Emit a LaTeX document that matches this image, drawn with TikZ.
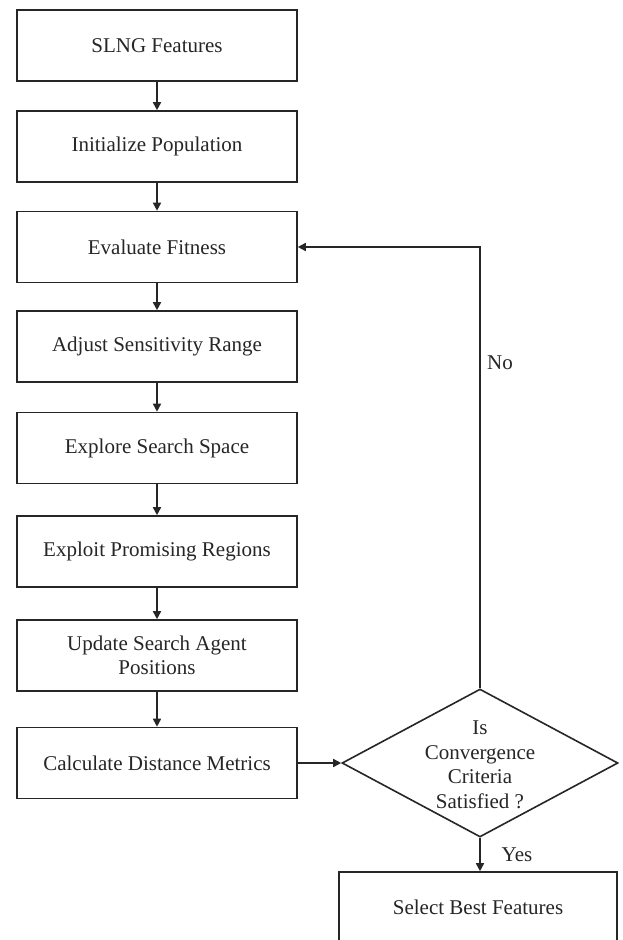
\documentclass[tikz,border=0pt]{standalone}
\usepackage{fontspec}
\setmainfont{Liberation Serif}
\usetikzlibrary{shapes.geometric,arrows.meta}
\begin{document}
\begin{tikzpicture}[x=1pt,y=-1pt,
  font=\fontsize{21}{24.5}\selectfont,
  stepbox/.style={draw=black!85, line width=1.6pt, minimum width=280pt, minimum height=71pt,
                  inner sep=0pt, align=center, text=black!85},
  decision/.style={draw=black!85, line width=1.6pt, shape=diamond, aspect=1.865,
                   minimum width=276pt, minimum height=148pt, inner sep=0pt},
  arr/.style={draw=black!85, line width=1.6pt, -{Triangle[length=8pt,width=8pt]}},
  lbl/.style={text=black!85}]
  \useasboundingbox[fill=white] (0,0) rectangle (622,940);

  % main column of processing steps
  \node[stepbox] (b1) at (157,45.5)  {SLNG Features};
  \node[stepbox] (b2) at (157,146.5) {Initialize Population};
  \node[stepbox] (b3) at (157,247)   {Evaluate Fitness};
  \node[stepbox] (b4) at (157,346.5) {Adjust Sensitivity Range};
  \node[stepbox] (b5) at (157,448)   {Explore Search Space};
  \node[stepbox] (b6) at (157,551.5) {Exploit Promising Regions};
  \node[stepbox] (b7) at (157,655.5) {Update Search Agent\\Positions};
  \node[stepbox] (b8) at (157,763)   {Calculate Distance Metrics};

  % convergence test and final step
  \node[decision] (dec) at (480,763) {};
  \node[align=center, text=black!85, inner sep=0pt] (dectext) at (480,765)
       {Is\\Convergence\\Criteria\\Satisfied ?};
  \node[stepbox, minimum width=278pt] (sel) at (478,907.5) {Select Best Features};

  % connectors
  \draw[arr] (b1) -- (b2);
  \draw[arr] (b2) -- (b3);
  \draw[arr] (b3) -- (b4);
  \draw[arr] (b4) -- (b5);
  \draw[arr] (b5) -- (b6);
  \draw[arr] (b6) -- (b7);
  \draw[arr] (b7) -- (b8);
  \draw[arr] (b8.east) -- (dec.west);
  \draw[arr] (dec.south) -- (dec.south |- sel.north);
  \draw[arr] (dec.north) -- (dec.north |- b3.east) -- (b3.east);

  % branch labels
  \node[lbl] (no)  at (500,363) {No};
  \node[lbl] (yes) at (517,855) {Yes};
\end{tikzpicture}
\end{document}
